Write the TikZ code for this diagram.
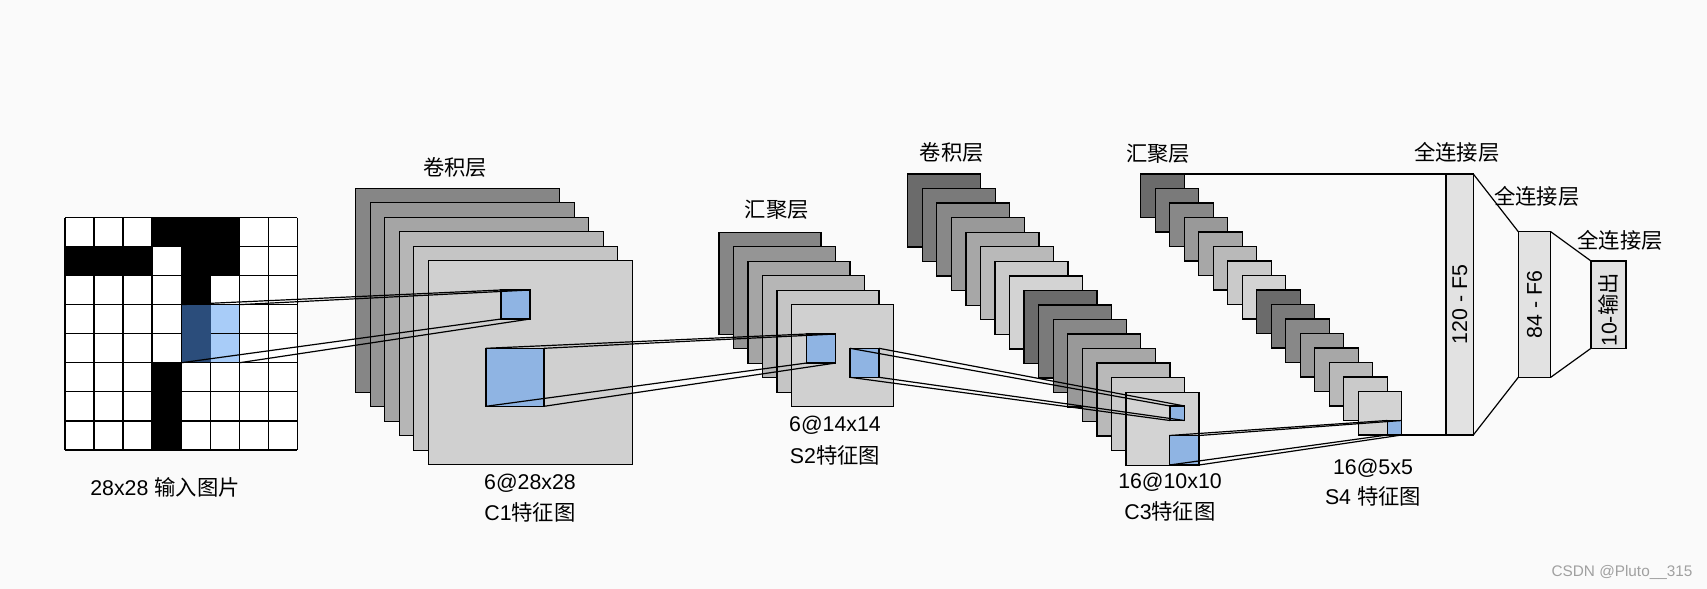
\documentclass[tikz,border=0pt]{standalone}
\usepackage{fontspec}
\setmainfont{Liberation Sans}
\newfontfamily\cjk{Noto Sans CJK SC}
\definecolor{bg}{HTML}{FAFAFA}
\definecolor{g1}{HTML}{868686}
\definecolor{g2}{HTML}{959595}
\definecolor{g3}{HTML}{A5A5A5}
\definecolor{g4}{HTML}{B6B6B6}
\definecolor{g5}{HTML}{C5C5C5}
\definecolor{g6}{HTML}{D0D0D0}
\definecolor{h1}{HTML}{6B6B6B}
\definecolor{h2}{HTML}{7A7A7A}
\definecolor{h3}{HTML}{888888}
\definecolor{h4}{HTML}{999999}
\definecolor{h5}{HTML}{A7A7A7}
\definecolor{h6}{HTML}{B9B9B9}
\definecolor{h7}{HTML}{CACACA}
\definecolor{h8}{HTML}{D3D3D3}
\definecolor{sqblue}{HTML}{8FB4E3}
\definecolor{dblue}{HTML}{2B4D7B}
\definecolor{lblue}{HTML}{A8CCF8}
\definecolor{fcgray}{HTML}{E2E2E2}
\definecolor{wm}{HTML}{A0A0A0}
\begin{document}
\begin{tikzpicture}[x=0.75pt,y=-0.75pt,
  pxsize/.style={minimum width=#1*0.75pt,minimum height=#1*0.75pt},
  fmap/.style={draw=black,line width=1pt,inner sep=0pt,outer sep=0pt,anchor=north west},
  bluesq/.style={fmap,fill=sqblue},
  fcbox/.style={fmap,fill=fcgray},
  conn/.style={draw=black,line width=0.9pt},
  gridline/.style={draw=black,line width=1pt},
  lbl/.style={font=\fontsize{16}{19}\selectfont,inner sep=0pt,anchor=center},
]
\fill[bg] (0,0) rectangle (1707,589);
\useasboundingbox (0,0) rectangle (1707,589);

% ---------- input grid ----------
\fill[white] (65,217.5) rectangle (297.4,449.9);
\foreach \cx/\cy in {3/0,4/0,5/0,0/1,1/1,2/1,4/1,5/1,4/2,3/5,3/6,3/7}
  \fill[black] ({65+29.05*\cx},{217.5+29.05*\cy}) rectangle ++(29.05,29.05);
\fill[lblue] (210.25,304.65) rectangle (239.3,362.75);
\foreach \k in {0,...,8} {
  \draw[gridline] ({65+29.05*\k},217.5) -- ({65+29.05*\k},449.9);
  \draw[gridline] (65,{217.5+29.05*\k}) -- (297.4,{217.5+29.05*\k});
}
\fill[dblue] (181.2,304.65) rectangle (210.9,362.75);
\node[draw=black,line width=1pt,inner sep=0pt,outer sep=0pt,anchor=north west,
      minimum width=58.1*0.75pt,minimum height=58.1*0.75pt] (rf) at (181.2,304.65) {};
\node[lbl] (inlbl) at (165,487) {28x28 {\cjk 输入图片}};

% ---------- C1 ----------
\foreach \i/\c in {0/g1,1/g2,2/g3,3/g4,4/g5,5/g6}
  \node[fmap,fill=\c,pxsize=204] (c1-\i) at ({355.7+14.5*\i},{188.3+14.5*\i}) {};
\node[bluesq,pxsize=29] (c1s) at (501,290) {};
\node[bluesq,pxsize=58] (c1b) at (486,348.3) {};
\node[lbl] (c1t) at (455,167) {\cjk 卷积层};
\node[lbl] (c1n) at (530,483) {6@28x28};
\node[lbl] (c1m) at (530,512) {C1{\cjk 特征图}};

% ---------- S2 ----------
\foreach \i/\c in {0/g1,1/g2,2/g3,3/g4,4/g5,5/g6}
  \node[fmap,fill=\c,pxsize=102] (s2-\i) at ({719+14.5*\i},{232.3+14.5*\i}) {};
\node[bluesq,pxsize=29] (s2a) at (806.7,334) {};
\node[bluesq,pxsize=29] (s2b) at (850,348.3) {};
\node[lbl] (s2t) at (776.7,210) {\cjk 汇聚层};
\node[lbl] (s2n) at (835,425) {6@14x14};
\node[lbl] (s2m) at (835,455) {S2{\cjk 特征图}};

% ---------- C3 ----------
\foreach \i in {0,...,15} {
  \pgfmathtruncatemacro\k{mod(\i,8)+1}
  \node[fmap,fill=h\k,pxsize=73] (c3-\i) at ({907.7+14.55*\i},{174+14.55*\i}) {};
}
\node[bluesq,pxsize=14.5] (c3s) at (1170,406) {};
\node[bluesq,pxsize=29.5] (c3b) at (1169.5,435.5) {};
\node[lbl] (c3t) at (951.7,152.7) {\cjk 卷积层};
\node[lbl] (c3n) at (1170,482.7) {16@10x10};
\node[lbl] (c3m) at (1170,511.7) {C3{\cjk 特征图}};

% ---------- S4 ----------
\foreach \i in {0,...,15} {
  \pgfmathtruncatemacro\k{mod(\i,8)+1}
  \node[fmap,fill=h\k,pxsize=43.5] (s4-\i) at ({1140.7+14.5*\i},{174+14.5*\i}) {};
}
\node[bluesq,pxsize=14.5] (s4s) at (1387.2,420.5) {};
\node[lbl] (s4t) at (1158.3,153.3) {\cjk 汇聚层};
\node[lbl] (s4n) at (1373,468) {16@5x5};
\node[lbl] (s4m) at (1373,496.7) {S4 {\cjk 特征图}};

% ---------- fully connected ----------
\node[fcbox,minimum width=27.3*0.75pt,minimum height=261*0.75pt] (f5) at (1446,174) {};
\node[fcbox,minimum width=32.4*0.75pt,minimum height=145.6*0.75pt] (f6) at (1518.3,231.7) {};
\node[fcbox,minimum width=35*0.75pt,minimum height=87.3*0.75pt] (out) at (1591,261) {};
\node[lbl,rotate=90] (f5l) at (f5.center) {120 - F5};
\node[lbl,rotate=90] (f6l) at (f6.center) {84 - F6};
\node[lbl,rotate=90] (outl) at ([yshift=-4pt]out.center) {10-{\cjk 输出}};
\node[lbl] (f5t) at (1456.7,152.7) {\cjk 全连接层};
\node[lbl] (f6t) at (1536.7,196) {\cjk 全连接层};
\node[lbl] (outt) at (1620,240) {\cjk 全连接层};

% ---------- connectors ----------
\foreach \a in {north west,north east,south west,south east} {
  \draw[conn] (rf.\a) -- (c1s.\a);
  \draw[conn] (c1b.\a) -- (s2a.\a);
  \draw[conn] (s2b.\a) -- (c3s.\a);
  \draw[conn] (c3b.\a) -- (s4s.\a);
}
\draw[conn] (s4-0.north east) -- (f5.north west);
\draw[conn] (s4s.south east) -- (f5.south west);
\draw[conn] (f5.north east) -- (f6.north west);
\draw[conn] (f5.south east) -- (f6.south west);
\draw[conn] (f6.north east) -- (out.north west);
\draw[conn] (f6.south east) -- (out.south west);

% ---------- watermark ----------
\node[font=\fontsize{11.5}{13}\selectfont,text=wm,inner sep=0pt] (wmk) at (1622,572.7) {CSDN @Pluto\_\_315};
\end{tikzpicture}
\end{document}
